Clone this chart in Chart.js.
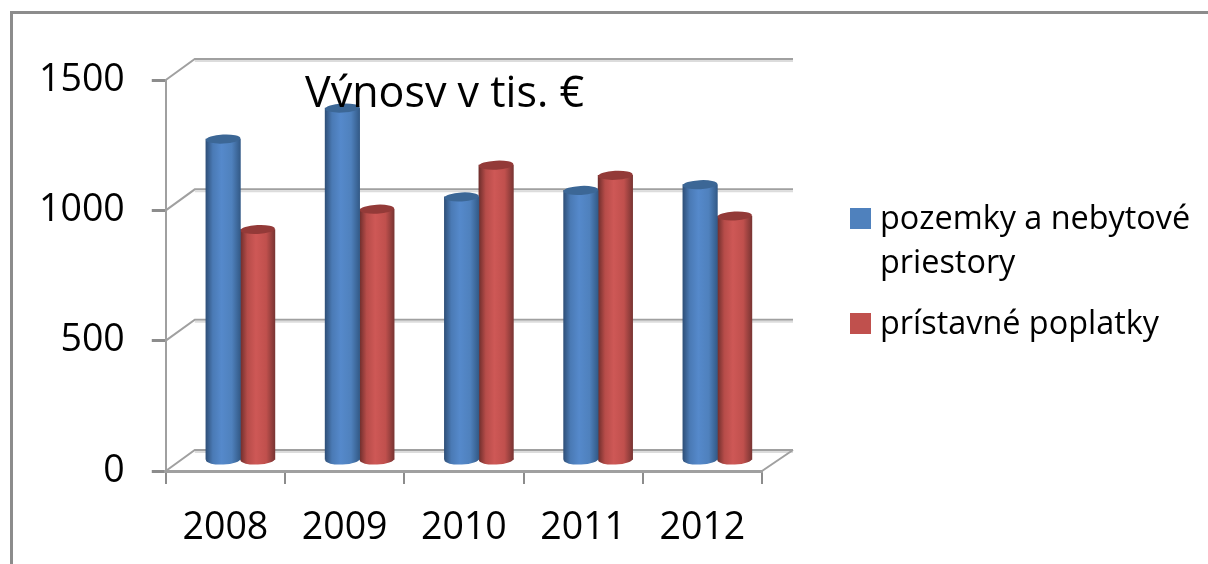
<!DOCTYPE html>
<html>
<head>
<meta charset="utf-8">
<script src="https://cdn.jsdelivr.net/npm/chart.js@4"></script>
<style>
  html, body { margin: 0; padding: 0; background: #fff; }
  #wrap { position: relative; width: 1208px; height: 564px; }
</style>
</head>
<body>
<div id="wrap"><canvas id="chart"></canvas></div>
<script>
var categories = ['2008', '2009', '2010', '2011', '2012'];
var pozemky = [1235, 1354, 1013, 1038, 1060];
var pristavne = [888, 966, 1135, 1096, 940];
var yTicks = [0, 500, 1000, 1500];

var seriesNames = [['pozemky a nebytové', 'priestory'], ['prístavné poplatky']];
var chartTitle = 'Výnosy v tis. €';

var fontName = '"Open Sans", sans-serif';
var axisGrey = '#8c8c8c';
var wallGrey = '#a0a0a0';
var depthX = 29, depthY = 21;   // back wall offset of the fake 3D box
var shiftX = 15, shiftY = 10;   // bars stand in the middle of the floor
var barWidth = 34.5;

var blueStops = ['#2f5079', '#4a7ab5', '#5589cb', '#4f81bd', '#335a87'];
var redStops = ['#6f2e2c', '#b64c49', '#ce5856', '#c0504d', '#7a3533'];

function cylinderFill(context) {
  var chart = context.chart;
  if (!chart.chartArea || context.dataIndex === undefined) return '#4f81bd';
  var stops = context.datasetIndex === 0 ? blueStops : redStops;
  var centre = chart.scales.x.getPixelForValue(context.dataIndex) + (context.datasetIndex - 0.5) * barWidth;
  var g = chart.ctx.createLinearGradient(centre - barWidth / 2, 0, centre + barWidth / 2, 0);
  g.addColorStop(0, stops[0]);
  g.addColorStop(0.2, stops[1]);
  g.addColorStop(0.45, stops[2]);
  g.addColorStop(0.75, stops[3]);
  g.addColorStop(1, stops[4]);
  return g;
}

// back wall, floor and gridlines, taken from the y scale
var boxPlugin = {
  id: 'box3d',
  beforeDatasetsDraw: function (chart) {
    var ctx = chart.ctx, a = chart.chartArea, y = chart.scales.y;
    ctx.save();
    // frame of the pasted picture
    ctx.strokeStyle = axisGrey;
    ctx.lineWidth = 3;
    ctx.beginPath();
    ctx.moveTo(11.5, 564);
    ctx.lineTo(11.5, 12.5);
    ctx.lineTo(1208, 12.5);
    ctx.stroke();

    yTicks.forEach(function (v) {
      var py = y.getPixelForValue(v);
      ctx.strokeStyle = wallGrey;
      ctx.lineWidth = 2;
      ctx.beginPath();
      ctx.moveTo(a.left, py);
      ctx.lineTo(a.left + depthX, py - depthY);
      ctx.lineTo(a.right + depthX + 2, py - depthY);
      ctx.stroke();
      ctx.strokeStyle = '#dcdcdc';
      ctx.beginPath();
      ctx.moveTo(a.left + depthX, py - depthY + 2);
      ctx.lineTo(a.right + depthX + 2, py - depthY + 2);
      ctx.stroke();
    });
    var floor = y.getPixelForValue(0);
    ctx.strokeStyle = wallGrey;
    ctx.lineWidth = 2;
    ctx.beginPath();
    ctx.moveTo(a.right, floor);
    ctx.lineTo(a.right + depthX + 2, floor - depthY);
    ctx.stroke();
    ctx.restore();
  },
  beforeDatasetDraw: function (chart, args) {
    var ctx = chart.ctx;
    ctx.save();
    ctx.translate(shiftX, -shiftY);
    // rounded foot of each cylinder
    args.meta.data.forEach(function (bar) {
      ctx.fillStyle = bar.options.backgroundColor;
      ctx.beginPath();
      ctx.ellipse(bar.x, bar.base, bar.width / 2, 5, -0.05, 0, Math.PI * 2);
      ctx.fill();
    });
  },
  afterDatasetDraw: function (chart, args) {
    var ctx = chart.ctx;
    args.meta.data.forEach(function (bar) {
      ctx.fillStyle = args.index === 0 ? '#3c6796' : '#933a38';
      ctx.beginPath();
      ctx.ellipse(bar.x, bar.y, bar.width / 2, 4.5, -0.05, 0, Math.PI * 2);
      ctx.fill();
    });
    ctx.restore();
  },
  afterDraw: function (chart) {
    var ctx = chart.ctx;
    ctx.save();
    // title sits on top of the bars and its descenders are cut off
    ctx.save();
    ctx.beginPath();
    ctx.rect(290, 60, 310, 47);
    ctx.clip();
    ctx.fillStyle = '#000';
    ctx.font = '43px ' + fontName;
    ctx.textBaseline = 'alphabetic';
    ctx.fillText(chartTitle, 305, 107);
    ctx.restore();

    // legend
    ctx.font = '32.4px ' + fontName;
    ctx.textBaseline = 'middle';
    ctx.fillStyle = '#4f81bd';
    ctx.fillRect(850, 208, 21, 21);
    ctx.fillStyle = '#000';
    ctx.fillText(seriesNames[0][0], 880, 220);
    ctx.fillText(seriesNames[0][1], 880, 264);
    ctx.fillStyle = '#c0504d';
    ctx.fillRect(850, 313, 21, 21);
    ctx.fillStyle = '#000';
    ctx.fillText(seriesNames[1][0], 880, 325);
    ctx.restore();
  }
};

var chart = new Chart(document.getElementById('chart'), {
  type: 'bar',
  data: {
    labels: categories,
    datasets: [
      { label: seriesNames[0].join(' '), data: pozemky, backgroundColor: cylinderFill, clip: false },
      { label: seriesNames[1].join(' '), data: pristavne, backgroundColor: cylinderFill, clip: false }
    ]
  },
  options: {
    responsive: true,
    maintainAspectRatio: false,
    animation: false,
    layout: { padding: { left: 12, right: 446, top: 80, bottom: -9 } },
    datasets: { bar: { barThickness: barWidth, categoryPercentage: 0.58, barPercentage: 1, borderWidth: 0 } },
    plugins: { legend: { display: false }, title: { display: false }, tooltip: { enabled: false } },
    scales: {
      x: {
        grid: { drawOnChartArea: false, color: axisGrey, lineWidth: 2, tickLength: 13 },
        border: { color: wallGrey, width: 3 },
        ticks: { color: '#000', font: { family: fontName, size: 37.5 }, padding: 22, maxRotation: 0 }
      },
      y: {
        min: 0,
        max: 1500,
        grid: { drawOnChartArea: false, color: axisGrey, lineWidth: 3, tickLength: 14 },
        border: { color: wallGrey, width: 2 },
        ticks: {
          stepSize: 500,
          color: '#000',
          font: { family: fontName, size: 37.5 },
          padding: 27,
          callback: function (value) { return String(value); }
        }
      }
    }
  },
  plugins: [boxPlugin]
});
</script>
</body>
</html>
